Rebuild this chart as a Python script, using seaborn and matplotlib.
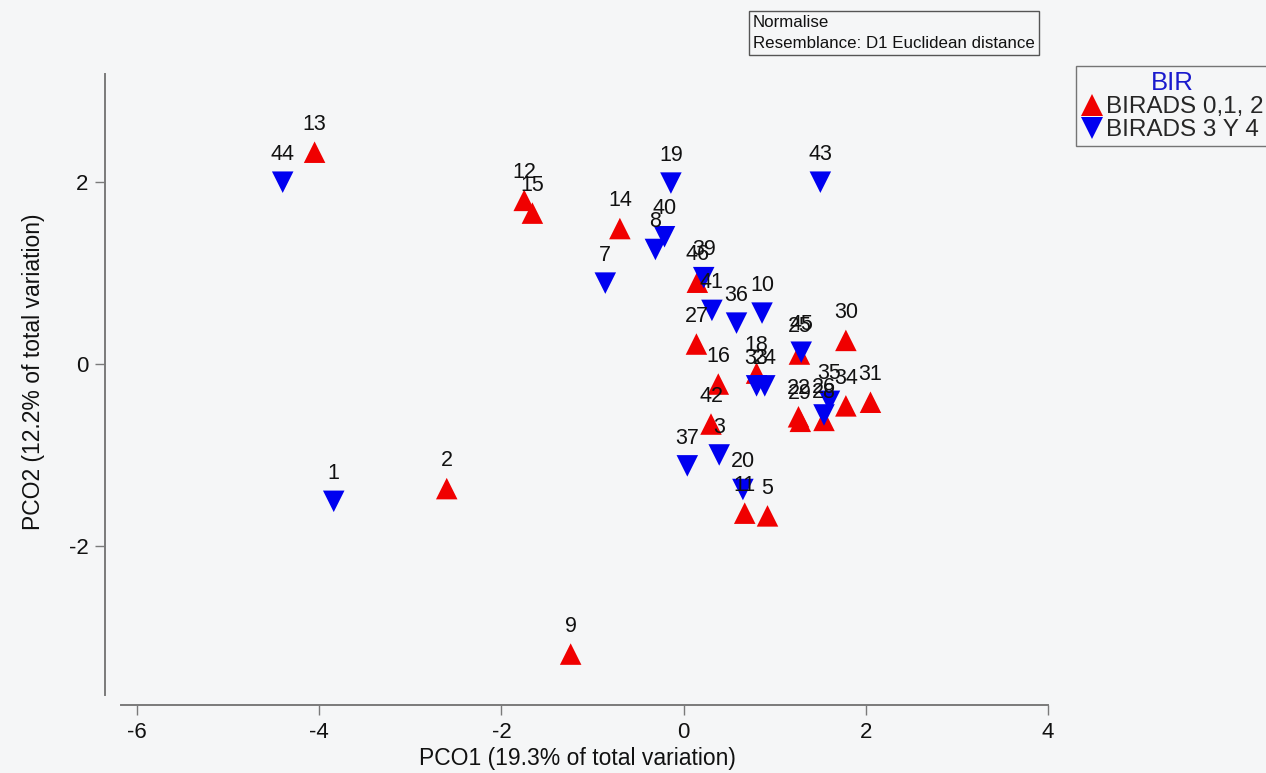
import matplotlib
matplotlib.use("Agg")
import matplotlib.pyplot as plt
import seaborn as sns
import pandas as pd

# PCO scores per sample
red_ids = [13, 12, 15, 14, 46, 27, 16, 42, 18, 25, 30, 31, 34, 22, 29, 28, 11, 5, 2, 9]
red_pco1 = [-4.05, -1.75, -1.66, -0.70, 0.15, 0.14, 0.38, 0.30, 0.80, 1.27, 1.78, 2.05, 1.78,
            1.26, 1.28, 1.54, 0.67, 0.92, -2.60, -1.24]
red_pco2 = [2.33, 1.80, 1.66, 1.49, 0.90, 0.22, -0.22, -0.66, -0.10, 0.11, 0.26, -0.42, -0.46,
            -0.58, -0.63, -0.62, -1.64, -1.67, -1.37, -3.19]

blue_ids = [44, 1, 19, 40, 8, 7, 39, 41, 36, 10, 45, 33, 24, 35, 26, 37, 3, 20, 43]
blue_pco1 = [-4.40, -3.84, -0.14, -0.21, -0.31, -0.86, 0.22, 0.31, 0.58, 0.86, 1.29, 0.80, 0.89,
             1.60, 1.54, 0.04, 0.39, 0.65, 1.50]
blue_pco2 = [2.00, -1.51, 1.99, 1.40, 1.26, 0.89, 0.95, 0.59, 0.45, 0.56, 0.13, -0.24, -0.24,
             -0.41, -0.56, -1.12, -1.00, -1.38, 2.00]

groups = ["BIRADS 0,1, 2", "BIRADS 3 Y 4"]
colors = ["#f00000", "#0000f0"]
x_ticks = [-6, -4, -2, 0, 2, 4]
y_ticks = [-2, 0, 2]
x_title = "PCO1 (19.3% of total variation)"
y_title = "PCO2 (12.2% of total variation)"
note_lines = ["Normalise", "Resemblance: D1 Euclidean distance"]
legend_title = "BIR"

df = pd.DataFrame({
    "id": red_ids + blue_ids,
    "PCO1": red_pco1 + blue_pco1,
    "PCO2": red_pco2 + blue_pco2,
    "BIR": [groups[0]] * len(red_ids) + [groups[1]] * len(blue_ids),
})

sns.set_theme(style="white")
plt.rcParams["font.family"] = ["Liberation Sans", "DejaVu Sans"]
bg = "#f5f6f7"
ink = "#111111"

fig = plt.figure(figsize=(12.66, 7.73), dpi=100, facecolor=bg)
ax = fig.add_axes([105 / 1266, 1 - 705 / 773, 945 / 1266, 631 / 773])
ax.set_facecolor(bg)

sns.scatterplot(
    data=df, x="PCO1", y="PCO2", hue="BIR", style="BIR",
    hue_order=groups, style_order=groups,
    palette=dict(zip(groups, colors)),
    markers={groups[0]: "^", groups[1]: "v"},
    s=240, linewidth=0, alpha=1, ax=ax, legend=True, clip_on=False,
)

# Sample numbers above each point
for _, r in df.iterrows():
    ax.annotate(str(r["id"]), (r["PCO1"], r["PCO2"]), xytext=(0, 20),
                textcoords="offset points", ha="center", va="center",
                fontsize=15.5, color=ink, zorder=5)

ax.set_xlim(-6.35, 4.02)
ax.set_ylim(-3.75, 3.19)
for side in ["top", "right"]:
    ax.spines[side].set_visible(False)
ax.spines["bottom"].set_bounds(-6.17, 4.0)
ax.spines["left"].set_bounds(-3.64, 3.19)
for side in ["bottom", "left"]:
    ax.spines[side].set_color("#7a7a7a")
    ax.spines[side].set_linewidth(1.4)

ax.set_xticks(x_ticks)
ax.set_yticks(y_ticks)
ax.set_xticklabels([str(v) for v in x_ticks])
ax.set_yticklabels([str(v) for v in y_ticks])
ax.tick_params(axis="both", which="major", direction="out", length=7, width=1,
               color="#7a7a7a", labelsize=16, labelcolor=ink, pad=5,
               bottom=True, left=True)

ax.set_xlabel(x_title, fontsize=16.5, color=ink, labelpad=3)
ax.set_ylabel(y_title, fontsize=16.5, color=ink)
ax.yaxis.set_label_coords(-0.063, (705 - 372) / 631)

# Method note box
fig.text(753 / 1266, 1 - 33 / 773, "\n".join(note_lines), fontsize=12.2, color=ink,
         ha="left", va="center", linespacing=1.5,
         bbox=dict(boxstyle="square,pad=0.25", facecolor=bg, edgecolor="#555555", linewidth=1))

# Legend
leg = ax.legend(loc="upper left", bbox_to_anchor=(1076 / 1266, 1 - 66 / 773),
                bbox_transform=fig.transFigure, title=legend_title, fontsize=17.5,
                title_fontsize=18.5, frameon=True, fancybox=False, borderpad=0.2,
                handletextpad=0.15, handlelength=0.9, labelspacing=0.05,
                borderaxespad=0, markerscale=1.0)
leg.get_frame().set_edgecolor("#555555")
leg.get_frame().set_facecolor(bg)
leg.get_frame().set_linewidth(1)
leg.get_title().set_color("#1a1acd")

fig.savefig("out.png", dpi=100, facecolor=bg)
